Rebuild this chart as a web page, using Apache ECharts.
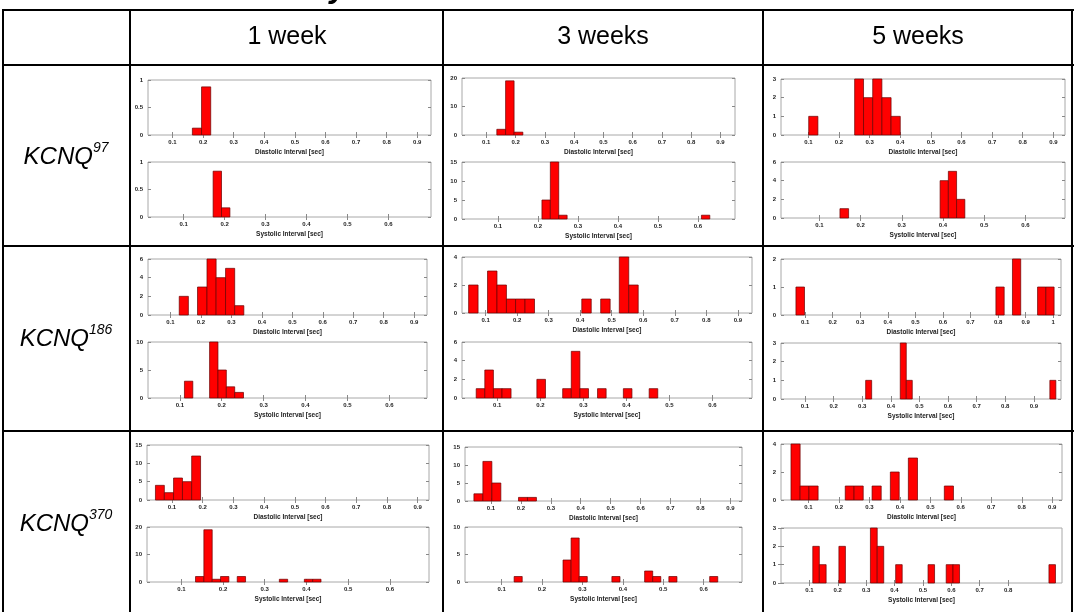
<!DOCTYPE html>
<html><head><meta charset="utf-8">
<script src="https://cdn.jsdelivr.net/npm/echarts@6/dist/echarts.min.js"></script>
<style>html,body{margin:0;padding:0;background:#fff;overflow:hidden}#c{width:1074px;height:612px}</style>
</head><body><div id="c"></div>
<script>
// ---------- data ----------
const title = 'Distribution of Systolic and Diastolic Intervals in Individual Flies';
const columns = ['1 week', '3 weeks', '5 weeks'];
const genotypes = ['97', '186', '370'];
const xNames = ['Diastolic Interval [sec]', 'Systolic Interval [sec]'];

// histogram bins: [binLeft, binRight, count]
const dia97_w1  = [[0.165,0.195,0.125],[0.195,0.225,0.875]];
const sys97_w1  = [[0.172,0.1925,0.833],[0.1925,0.213,0.167]];
const dia97_w3  = [[0.136,0.166,2],[0.166,0.195,19],[0.195,0.225,1]];
const sys97_w3  = [[0.21,0.231,5],[0.231,0.252,15],[0.252,0.273,1],[0.609,0.630,1]];
const dia97_w5  = [[0.101,0.131,1],[0.251,0.280,3],[0.280,0.310,2],[0.310,0.340,3],[0.340,0.370,2],[0.370,0.400,1]];
const sys97_w5  = [[0.150,0.171,1],[0.393,0.413,4],[0.413,0.433,5],[0.433,0.453,2]];

const dia186_w1 = [[0.129,0.159,2],[0.189,0.220,3],[0.220,0.250,6],[0.250,0.281,4],[0.281,0.311,5],[0.311,0.341,1]];
const sys186_w1 = [[0.111,0.131,3],[0.171,0.191,10],[0.191,0.211,5],[0.211,0.231,2],[0.231,0.252,1]];
const dia186_w3 = [[0.046,0.076,2],[0.106,0.136,3],[0.136,0.166,2],[0.166,0.195,1],[0.195,0.225,1],[0.225,0.255,1],[0.405,0.435,1],[0.465,0.495,1],[0.524,0.554,4],[0.554,0.584,2]];
const sys186_w3 = [[0.051,0.071,1],[0.071,0.091,3],[0.091,0.111,1],[0.111,0.132,1],[0.192,0.212,2],[0.252,0.272,1],[0.272,0.292,5],[0.292,0.312,1],[0.333,0.353,1],[0.393,0.413,1],[0.453,0.473,1]];
const dia186_w5 = [[0.067,0.098,1],[0.792,0.822,1],[0.852,0.882,2],[0.943,0.973,1],[0.973,1.003,1]];
const sys186_w5 = [[0.312,0.333,1],[0.433,0.454,3],[0.454,0.475,1],[0.956,0.977,1]];

const dia370_w1 = [[0.046,0.075,4],[0.075,0.105,2],[0.105,0.134,6],[0.134,0.164,5],[0.164,0.193,12]];
const sys370_w1 = [[0.134,0.154,2],[0.154,0.174,19],[0.174,0.194,1],[0.194,0.214,2],[0.234,0.254,2],[0.335,0.355,1],[0.395,0.415,1],[0.415,0.435,1]];
const dia370_w3 = [[0.043,0.073,2],[0.073,0.103,11],[0.103,0.133,5],[0.192,0.222,1],[0.222,0.252,1]];
const sys370_w3 = [[0.131,0.151,1],[0.252,0.272,4],[0.272,0.292,8],[0.292,0.312,1],[0.373,0.393,1],[0.454,0.474,2],[0.474,0.494,1],[0.514,0.534,1],[0.615,0.635,1]];
const dia370_w5 = [[0.043,0.073,4],[0.073,0.102,1],[0.102,0.132,1],[0.221,0.250,1],[0.250,0.280,1],[0.309,0.339,1],[0.369,0.398,2],[0.428,0.458,3],[0.546,0.576,1]];
const sys370_w5 = [[0.112,0.135,2],[0.135,0.159,1],[0.204,0.227,2],[0.315,0.339,3],[0.339,0.362,2],[0.404,0.427,1],[0.518,0.541,1],[0.582,0.606,1],[0.606,0.629,1],[0.944,0.967,1]];

// tick labels
const diaTicks   = [0.1,0.2,0.3,0.4,0.5,0.6,0.7,0.8,0.9];
const diaTicks10 = [0.1,0.2,0.3,0.4,0.5,0.6,0.7,0.8,0.9,1];
const sysTicks   = [0.1,0.2,0.3,0.4,0.5,0.6];
const sysTicks9  = [0.1,0.2,0.3,0.4,0.5,0.6,0.7,0.8,0.9];
const sysTicks8  = [0.1,0.2,0.3,0.4,0.5,0.6,0.7,0.8];

// per-plot y max / y tick step  [row][col][dia, sys]
const yMax  = [[[1,1],[20,15],[3,6]], [[6,10],[4,6],[2,3]], [[15,20],[15,10],[4,3]]];
const yStep = [[[0.5,0.5],[10,5],[1,2]], [[2,5],[2,2],[1,1]], [[5,10],[5,5],[2,1]]];
// per-plot x limits [row][col][dia, sys]
const xLim = [
  [[[0.020,0.945],[0.013,0.704]], [[0.017,0.950],[0.010,0.693]], [[0.0105,0.938],[0.007,0.696]]],
  [[[0.0265,0.942],[0.024,0.690]], [[0.025,0.945],[0.018,0.692]], [[0.0128,1.028],[0.016,0.995]]],
  [[[0.0185,0.937],[0.0176,0.694]], [[0.0132,0.939],[0.0094,0.695]], [[0.0103,0.932],[0.0,0.99]]]
];

// ---------- layout ----------
const hist = [
  [[dia97_w1, sys97_w1], [dia97_w3, sys97_w3], [dia97_w5, sys97_w5]],
  [[dia186_w1, sys186_w1], [dia186_w3, sys186_w3], [dia186_w5, sys186_w5]],
  [[dia370_w1, sys370_w1], [dia370_w3, sys370_w3], [dia370_w5, sys370_w5]]
];
const ticks = [
  [[diaTicks, sysTicks], [diaTicks, sysTicks], [diaTicks, sysTicks]],
  [[diaTicks, sysTicks], [diaTicks, sysTicks], [diaTicks10, sysTicks9]],
  [[diaTicks, sysTicks], [diaTicks, sysTicks], [diaTicks, sysTicks8]]
];
// boxes: [left, right, diaTop, diaBottom, sysTop, sysBottom]
const boxes = [
  [[148,431,80,135,162,217],[462,735,78,135,162,219],[781,1065,79,135,162,218]],
  [[148,427,259,315,342,398],[462,752,257,313,342,398],[781,1061,259,315,343,399]],
  [[147,429,445,500,527,582],[465,742,447,501,527,582],[781,1062,444,500,528,583]]
];

const FONT = '"Liberation Sans", Arial, Helvetica, sans-serif';
const grids = [], xAxes = [], yAxes = [], series = [];
let gi = 0;
for (let r = 0; r < 3; r++) {
  for (let c = 0; c < 3; c++) {
    for (let k = 0; k < 2; k++) {
      const b = boxes[r][c];
      const top = k === 0 ? b[2] : b[4];
      const bot = k === 0 ? b[3] : b[5];
      grids.push({ left: b[0], top: top, width: b[1] - b[0], height: bot - top,
        show: true, borderColor: '#a8a8a8', borderWidth: 1, backgroundColor: '#fff', containLabel: false });
      const lim = xLim[r][c][k];
      const tv = ticks[r][c][k];
      const tickStyle = { show: true, inside: true, length: 3, lineStyle: { color: '#888', width: 1 } };
      xAxes.push({ type: 'value', gridIndex: gi, position: 'bottom', min: lim[0], max: lim[1],
        name: xNames[k], nameLocation: 'middle', nameGap: 13.5,
        nameTextStyle: { fontSize: 6.5, fontWeight: 'bold', color: '#222', fontFamily: FONT },
        axisLine: { show: false }, splitLine: { show: false },
        axisTick: Object.assign({ customValues: tv }, tickStyle),
        axisLabel: { customValues: tv, fontSize: 6, fontWeight: 'bold', color: '#222', margin: 4, fontFamily: FONT } });
      xAxes.push({ type: 'value', gridIndex: gi, position: 'top', min: lim[0], max: lim[1],
        axisLine: { show: false }, splitLine: { show: false },
        axisTick: Object.assign({ customValues: tv }, tickStyle), axisLabel: { show: false } });
      yAxes.push({ type: 'value', gridIndex: gi, position: 'left', min: 0, max: yMax[r][c][k], interval: yStep[r][c][k],
        axisLine: { show: false }, splitLine: { show: false }, axisTick: tickStyle,
        axisLabel: { fontSize: 6, fontWeight: 'bold', color: '#222', margin: 5, fontFamily: FONT } });
      yAxes.push({ type: 'value', gridIndex: gi, position: 'right', min: 0, max: yMax[r][c][k], interval: yStep[r][c][k],
        axisLine: { show: false }, splitLine: { show: false }, axisTick: tickStyle, axisLabel: { show: false } });
      series.push({ type: 'custom', xAxisIndex: 2 * gi, yAxisIndex: 2 * gi, data: hist[r][c][k],
        encode: { x: [0, 1], y: 2 }, silent: true, animation: false,
        renderItem: function (params, api) {
          const p0 = api.coord([api.value(0), api.value(2)]);
          const p1 = api.coord([api.value(1), 0]);
          return { type: 'rect', shape: { x: p0[0], y: p0[1], width: p1[0] - p0[0], height: p1[1] - p0[1] },
            style: { fill: '#ff0000', stroke: '#6a0000', lineWidth: 0.7 } };
        } });
      gi++;
    }
  }
}

// table graphics
const LINE = { stroke: '#000', lineWidth: 2 };
const colX = [3, 130, 443, 763, 1072];
const rowY = [10, 65, 246, 431];
const graphic = [];
colX.forEach(x => graphic.push({ type: 'line', silent: true, shape: { x1: x, y1: rowY[0] - 1, x2: x, y2: 612 }, style: LINE }));
rowY.forEach(y => graphic.push({ type: 'line', silent: true, shape: { x1: 2, y1: y, x2: 1074, y2: y }, style: LINE }));
const colCenters = [287, 603, 918];
columns.forEach((t, i) => graphic.push({ type: 'text', silent: true, x: colCenters[i], y: 37,
  style: { text: t, fontSize: 25, fontFamily: FONT, fill: '#000', align: 'center', verticalAlign: 'middle' } }));
const rowCenters = [155, 337, 522];
genotypes.forEach((g, i) => graphic.push({ type: 'text', silent: true, x: 66, y: rowCenters[i],
  style: { text: '{a|KCNQ}{s|' + g + '}', align: 'center', verticalAlign: 'middle', fontFamily: FONT,
    rich: { a: { fontSize: 24, fontStyle: 'italic', fontFamily: FONT, fill: '#000', lineHeight: 28, verticalAlign: 'bottom' },
            s: { fontSize: 14, fontStyle: 'italic', fontFamily: FONT, fill: '#000', lineHeight: 28, verticalAlign: 'top' } } } }));
graphic.push({ type: 'text', silent: true, x: 565, y: -12,
  style: { text: title, fontSize: 31.5, fontWeight: 'bold', fontStyle: 'italic', fontFamily: FONT, fill: '#000', align: 'center', verticalAlign: 'middle' } });

const chart = echarts.init(document.getElementById('c'), null, { renderer: 'canvas' });
chart.setOption({ animation: false, backgroundColor: '#fff', grid: grids, xAxis: xAxes, yAxis: yAxes, series: series, graphic: graphic });
</script></body></html>
